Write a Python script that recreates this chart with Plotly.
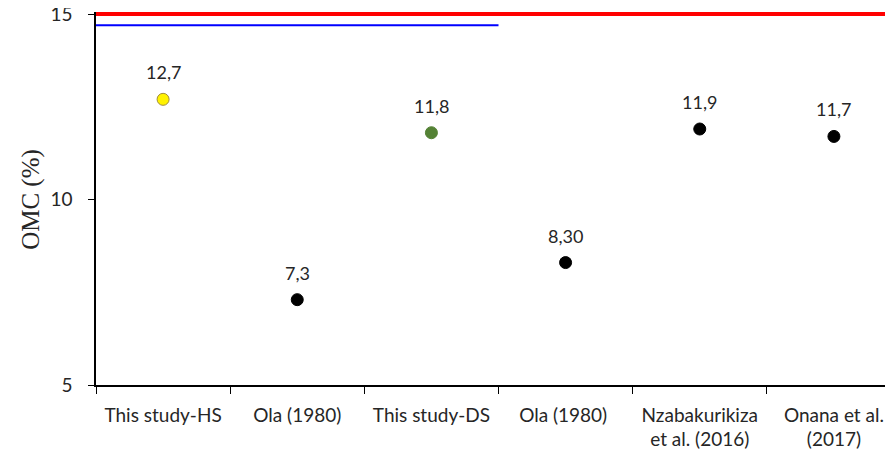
import plotly.graph_objects as go

categories = ["This study-HS", "Ola (1980)", "This study-DS", "Ola (1980) ",
              "Nzabakurikiza<br>et al. (2016)", "Onana et al.<br>(2017)"]
omc_values = [12.7, 7.3, 11.8, 8.30, 11.9, 11.7]
value_labels = ["12,7", "7,3", "11,8", "8,30", "11,9", "11,7"]
marker_colors = ["#FFF200", "#000000", "#548235", "#000000", "#000000", "#000000"]
marker_lines = ["#A08C3C", "#000000", "#548235", "#000000", "#000000", "#000000"]
y_ticks = [5, 10, 15]

FONT = "Lato, 'Open Sans', sans-serif"
TXT = "#262626"

fig = go.Figure()
fig.add_trace(go.Scatter(
    x=categories, y=omc_values, mode="markers",
    marker=dict(size=12, color=marker_colors, line=dict(color=marker_lines, width=1)),
    showlegend=False, hoverinfo="skip", cliponaxis=False))

for c, v, t in zip(categories, omc_values, value_labels):
    fig.add_annotation(x=c, y=v, text=t, showarrow=False, yshift=27,
                       font=dict(family=FONT, size=18, color=TXT))

# diagnostic lines
fig.add_shape(type="line", xref="paper", yref="paper", x0=0, x1=1, y0=1, y1=1,
              line=dict(color="red", width=4), layer="above")
fig.add_shape(type="line", xref="paper", yref="paper", x0=0, x1=0.5, y0=0.97, y1=0.97,
              line=dict(color="blue", width=2), layer="above")

xr = [-0.5, 5.5]
yr = [5, 15]
fig.update_layout(
    width=893, height=454,
    margin=dict(l=88, r=0, t=6, b=77),
    paper_bgcolor="white", plot_bgcolor="white",
    xaxis=dict(type="category", range=xr, tickson="boundaries", ticks="outside",
               ticklen=7, tickwidth=1.3, tickcolor="#000", showline=True,
               linecolor="#000", linewidth=1.5, mirror=True, showgrid=False,
               automargin=False, ticklabelstandoff=12,
               tickfont=dict(family=FONT, size=19, color=TXT), zeroline=False),
    yaxis=dict(range=yr, tickvals=y_ticks, ticks="outside", ticklen=6,
               tickwidth=1.3, tickcolor="#000", showline=True, linecolor="#000",
               linewidth=1.5, showgrid=False, zeroline=False, automargin=False,
               ticklabelstandoff=12, ticklabeloverflow="allow",
               tickfont=dict(family=FONT, size=19, color=TXT),
               title=dict(text="OMC (%)", standoff=4,
                          font=dict(family="'Liberation Serif', 'Times New Roman', serif",
                                    size=25, color=TXT))),
)

fig.write_html("out.html")
